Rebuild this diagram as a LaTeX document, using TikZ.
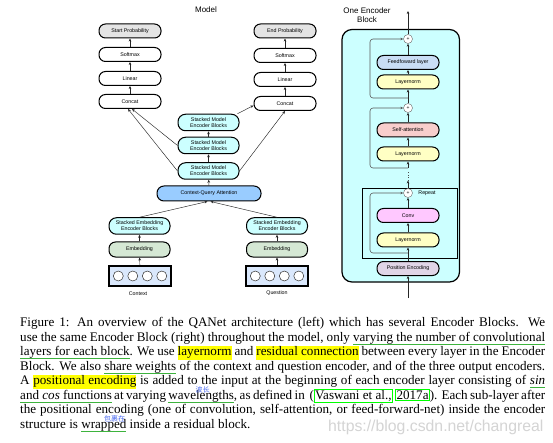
\documentclass[tikz,border=0pt]{standalone}
\usepackage{fontspec}
\setmainfont{Liberation Serif}
\setsansfont{Liberation Sans}
\newfontfamily\cjk{Noto Sans CJK SC}
\usetikzlibrary{arrows.meta,calc}
\definecolor{cyanbox}{HTML}{CCFFFF}
\definecolor{cqac}{HTML}{99CCFF}
\definecolor{embc}{HTML}{D5E8D4}
\definecolor{inpc}{HTML}{DAE8FC}
\definecolor{ffc}{HTML}{C9DDF5}
\definecolor{lnc}{HTML}{FFFFC4}
\definecolor{sac}{HTML}{F8CECC}
\definecolor{convc}{HTML}{FFC8FF}
\definecolor{pec}{HTML}{E1D5E7}
\definecolor{probc}{HTML}{E4E4E4}
\definecolor{ulg}{HTML}{3DB33D}
\definecolor{cnb}{HTML}{4A6AF0}
\definecolor{hly}{HTML}{FFFF00}
\newcommand\gul[1]{\setbox0\hbox{#1}\rlap{\color{ulg}\rule[-3.6pt]{\wd0}{1.3pt}}\box0\relax}
\newcommand\hlt[1]{{\setlength\fboxsep{0pt}\colorbox{hly}{\strut #1}}}
\newcommand\gbx[1]{{\setlength\fboxsep{0.4pt}\setlength\fboxrule{0.9pt}\color{green}\fbox{\color{black}#1}}}
\tikzset{
 blk/.style={draw, line width=1pt, rounded corners=6.5pt, minimum width=62pt, minimum height=14pt, inner sep=0pt, align=center, font=\sffamily\fontsize{5.3}{6.2}\selectfont},
 blktwo/.style={blk, minimum width=61pt, minimum height=16.5pt, rounded corners=7.5pt},
 arr/.style={-{Stealth[length=3pt,width=2.6pt]}, line width=0.45pt, draw=black!85},
 res/.style={line width=0.6pt, draw=black!65, rounded corners=3pt, -{Stealth[length=3pt,width=2.6pt]}},
 plus/.style={circle, draw=black!60, line width=0.4pt, fill=white, minimum size=9pt, inner sep=0pt, font=\sffamily\fontsize{5}{5}\selectfont},
 lbl/.style={font=\sffamily\fontsize{5.3}{6}\selectfont, inner sep=0pt},
 ttl/.style={font=\sffamily\fontsize{8}{9.6}\selectfont, align=center, inner sep=0pt},
 capl/.style={anchor=base west, inner sep=0pt, font=\fontsize{13.1}{14.5}\selectfont},
 inbox/.style={draw, line width=1.4pt, fill=inpc, minimum width=62pt, minimum height=20pt, inner sep=0pt},
 dot/.style={circle, draw=black!80, line width=0.5pt, fill=white, minimum size=10pt, inner sep=0pt},
 cnote/.style={inner sep=0pt, font=\cjk\fontsize{7}{7.5}\selectfont, text=cnb},
}
\begin{document}
\begin{tikzpicture}[x=1pt,y=-1pt]
\useasboundingbox (0,0) rectangle (553,443);
\fill[white] (0,0) rectangle (553,443);

% ---------------- Model ----------------
\node[ttl] (mtitle) at (206,10) {Model};

\node[blk, fill=probc] (sp) at (130,31) {Start Probability};
\node[blk] (sm1) at (130,54.5) {Softmax};
\node[blk] (lin1) at (130,78.5) {Linear};
\node[blk] (cat1) at (130,101.5) {Concat};

\node[blk, fill=probc] (ep) at (285,31) {End Probability};
\node[blk] (sm2) at (285,55.5) {Softmax};
\node[blk] (lin2) at (285,79.5) {Linear};
\node[blk] (cat2) at (285,103.5) {Concat};

\node[blktwo, fill=cyanbox] (m1) at (208.5,122.5) {Stacked Model\\Encoder Blocks};
\node[blktwo, fill=cyanbox] (m2) at (208.5,145.5) {Stacked Model\\Encoder Blocks};
\node[blktwo, fill=cyanbox] (m3) at (208.5,171) {Stacked Model\\Encoder Blocks};
\node[blk, fill=cqac, minimum width=104pt, minimum height=15pt, rounded corners=7pt] (cqa) at (209,193.5) {Context-Query Attention};

\node[blktwo, fill=cyanbox] (se1) at (139.5,226) {Stacked Embedding\\Encoder Blocks};
\node[blk, fill=embc, minimum width=61pt, minimum height=15pt] (emb1) at (139.5,249.5) {Embedding};
\node[inbox] (in1) at (140,276) {};
\foreach \i/\xx in {1/118.3,2/132.8,3/147.3,4/161.8}{\node[dot] (a\i) at (\xx,276) {};}
\node[lbl] (ctx) at (138,293.5) {Context};

\node[blktwo, fill=cyanbox] (se2) at (277,226) {Stacked Embedding\\Encoder Blocks};
\node[blk, fill=embc, minimum width=61pt, minimum height=15pt] (emb2) at (277,249.5) {Embedding};
\node[inbox] (in2) at (277,276) {};
\foreach \i/\xx in {1/255.3,2/269.8,3/284.3,4/298.8}{\node[dot] (b\i) at (\xx,276) {};}
\node[lbl] (qst) at (277,293.5) {Question};

\draw[arr] (sm1) -- (sp);
\draw[arr] (lin1) -- (sm1);
\draw[arr] (cat1) -- (lin1);
\draw[arr] (sm2) -- (ep);
\draw[arr] (lin2) -- (sm2);
\draw[arr] (cat2) -- (lin2);
\draw[arr] (m2) -- (m1);
\draw[arr] (m3) -- (m2);
\draw[arr] (cqa) -- (m3);
\draw[arr] (se1.north) -- ([xshift=-1.5pt]cqa.south);
\draw[arr] (se2.north) -- ([xshift=1.5pt]cqa.south);
\draw[arr] (emb1) -- (se1);
\draw[arr] (in1) -- (emb1);
\draw[arr] (emb2) -- (se2);
\draw[arr] (in2) -- (emb2);
\draw[arr] (m3.west) -- ([xshift=-2pt]cat1.south);
\draw[arr] (m2.west) -- ([xshift=2pt]cat1.south);
\draw[arr] ([xshift=-2pt]m1.north east) -- ([yshift=-2pt]cat2.west);
\draw[arr] (m3.east) -- (cat2.south);

% ---------------- Encoder block ----------------
\node[ttl] (etitle) at (367,15) {One Encoder\\Block};
\draw[line width=1.2pt, fill=cyanbox, rounded corners=10pt] (342,29.5) rectangle (459.5,282);
\draw[line width=0.6pt] (362,188) rectangle (457.5,258);
\node[lbl] (rep) at (427,193) {Repeat};

\node[plus] (c1) at (408,39) {+};
\node[blk, fill=ffc] (ff) at (408,62.5) {Feedfoward layer};
\node[blk, fill=lnc] (ln1) at (408,82) {Layernorm};
\node[plus] (c2) at (408,108) {+};
\node[blk, fill=sac] (sa) at (408,130) {Self-attention};
\node[blk, fill=lnc] (ln2) at (408,154) {Layernorm};
\node[plus] (c3) at (408,193) {+};
\node[blk, fill=convc] (cv) at (408,215.5) {Conv};
\node[blk, fill=lnc] (ln3) at (408,240) {Layernorm};
\node[blk, fill=pec] (pe) at (408,268.5) {Position Encoding};

\coordinate (out) at (408,11);
\coordinate (inp) at (408,298);
\coordinate (r1) at (408,98);
\coordinate (r2) at (408,168);
\coordinate (r3) at (408,253);
\coordinate (d1) at (408,180.5);
\coordinate (d2) at (408,171);

\draw[arr] (inp) -- (pe);
\draw[arr] (pe) -- (ln3);
\draw[arr] (ln3) -- (cv);
\draw[arr] (cv) -- (c3);
\draw[arr] (c3) -- (d1);
\draw[line width=0.6pt, black!70, dotted] (d1) -- (d2);
\draw[arr] (r2) -- (ln2);
\draw[arr] (ln2) -- (sa);
\draw[arr] (sa) -- (c2);
\draw[arr] (c2) -- (ln1);
\draw[arr] (ln1) -- (ff);
\draw[arr] (ff) -- (c1);
\draw[arr] (c1) -- (out);

\draw[res] (r1) -- (370,98) -- (370,39) -- (c1.west);
\draw[res] (r2) -- (370,168) -- (370,108) -- (c2.west);
\draw[res] (r3) -- (370,253) -- (370,193) -- (c3.west);

% ---------------- Caption ----------------
\node[capl] (l1) at (20,326.8) {\makebox[525pt][s]{Figure 1: An overview of the QANet architecture (left) which has several Encoder Blocks. We}};
\node[capl] (l2) at (20,341.3) {\makebox[525pt][s]{use the same Encoder Block (right) throughout the model, only \gul{varying the number of convolutional}}};
\node[capl] (l3) at (20,355.8) {\makebox[525pt][s]{\gul{layers for each block}. We use \hlt{layernorm} and \hlt{residual connection} between every layer in the Encoder}};
\node[capl] (l4) at (20,370.3) {\makebox[525pt][s]{Block. We also \gul{share weights} of the context and question encoder, and of the three output encoders.}};
\node[capl] (l5) at (20,384.8) {\makebox[525pt][s]{A \hlt{positional encoding} is added to the input at the beginning of each encoder layer consisting of \gul{\textit{sin}}}};
\node[capl] (l6) at (20,399.3) {\makebox[525pt][s]{\gul{and \textit{cos} functions} at varying \gul{wavelengths}, as defined in \ (\gbx{Vaswani et al.,} \gbx{2017a}). Each sub-layer after}};
\node[capl] (l7) at (20,413.8) {\makebox[525pt][s]{the positional encoding (one of convolution, self-attention, or feed-forward-net) inside the encoder}};
\node[capl] (l8) at (20,428.3) {structure is \gul{wrapped} inside a residual block.};

\node[cnote] (n1) at (202.5,389.5) {波长};
\node[cnote] (n2) at (114.5,418.5) {包裹在};
\node[anchor=base west, inner sep=0pt, font=\sffamily\fontsize{15.8}{16}\selectfont, text=black!17] (wm) at (328,431.5) {https://blog.csdn.net/changreal};
\end{tikzpicture}
\end{document}
